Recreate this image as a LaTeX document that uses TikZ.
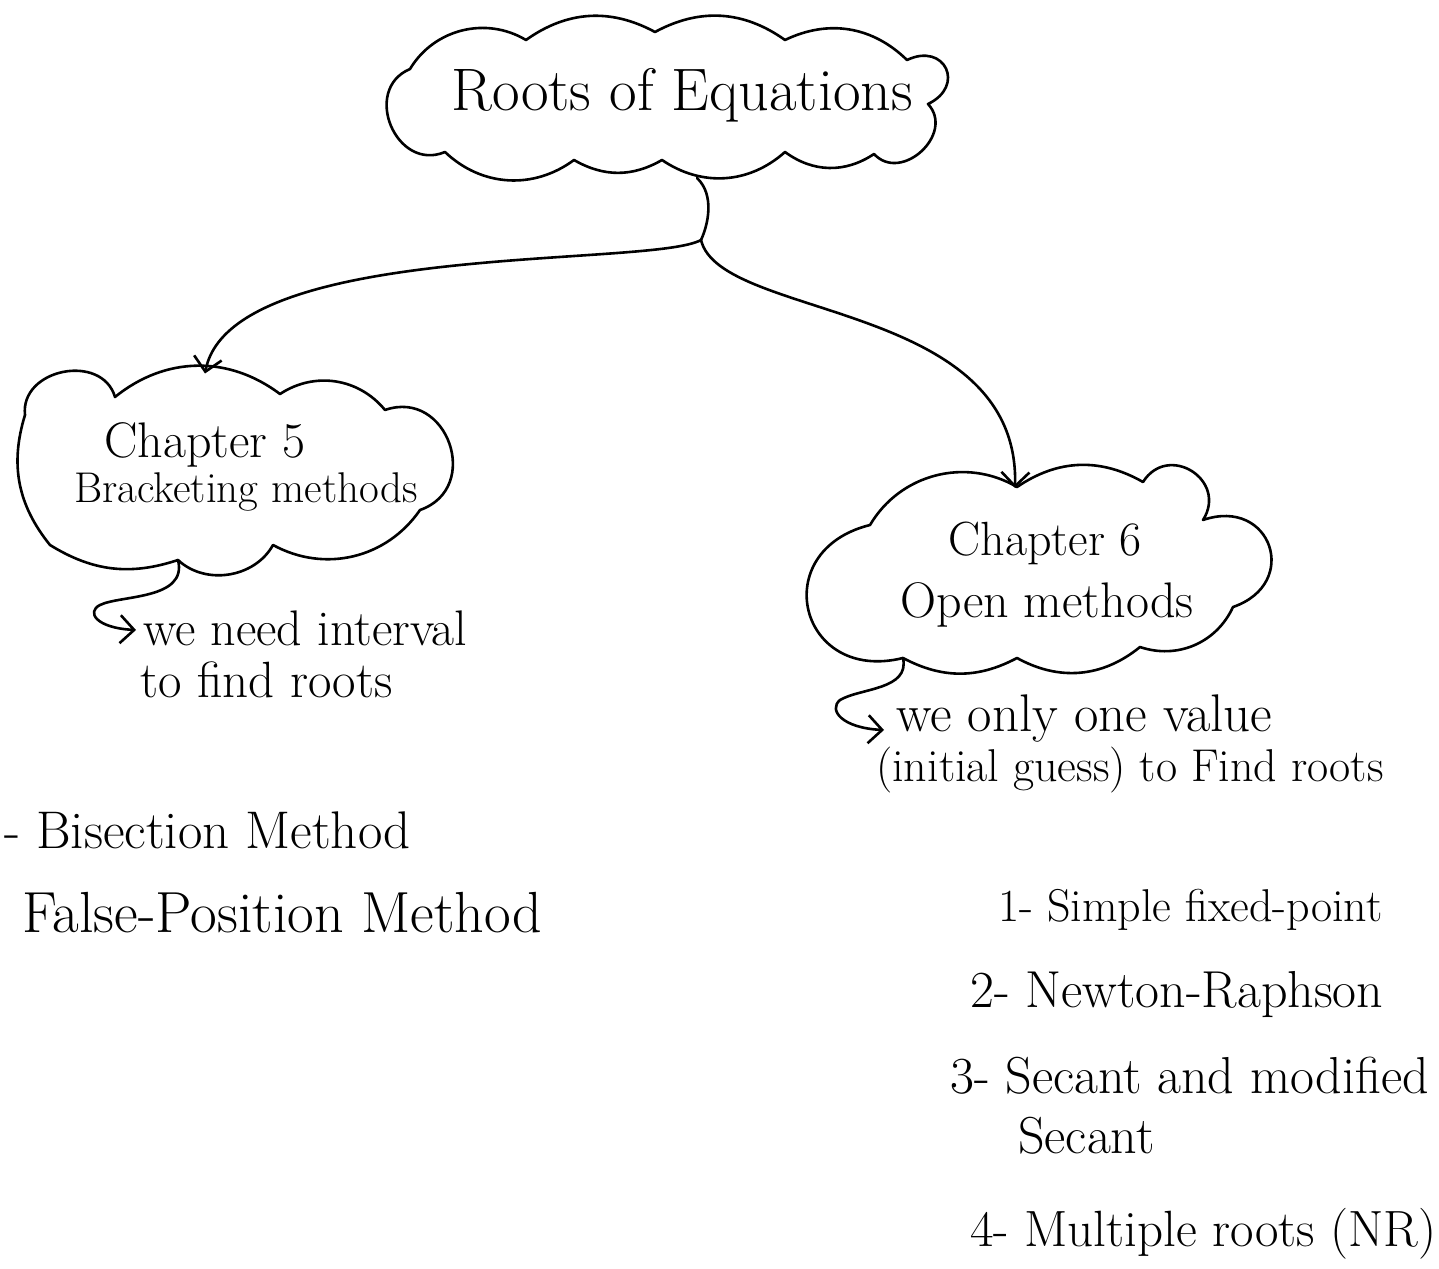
\documentclass[tikz,border=0pt]{standalone}
\usetikzlibrary{arrows.meta}
\newcommand{\fs}[1]{\fontsize{#1}{#1}\selectfont}
\begin{document}
\begin{tikzpicture}[x=1pt,y=-1pt,
  ink/.style={line width=2.6pt,line cap=round,line join=round},
  area/.style={inner sep=0pt,outer sep=0pt},
  hand/.style={inner sep=0pt},
  arr/.style={ink,-{Straight Barb[length=14pt,width=28pt,line width=2.6pt]}}]
\useasboundingbox (0,0) rectangle (1439,1268);
% cloud areas (anchors)
\node[area,minimum width=580pt,minimum height=166pt] (root) at (672,95) {};
\node[area,minimum width=443pt,minimum height=205pt] (ch5) at (233,476) {};
\node[area,minimum width=480pt,minimum height=200pt] (ch6) at (1037,572) {};
% root cloud outline
\coordinate (a1) at (410,69);  \coordinate (a2) at (526,40);  \coordinate (a3) at (655,32);
\coordinate (a4) at (785,40);  \coordinate (a5) at (907,60);  \coordinate (a6) at (928,104);
\coordinate (a7) at (874,154); \coordinate (a8) at (785,152); \coordinate (a9) at (662,160);
\coordinate (a10) at (574,160); \coordinate (a11) at (445,152);
\draw[ink] (a1) to[bend left=45] (a2) to[bend left=32] (a3) to[bend left=32] (a4)
  to[bend left=35] (a5) to[bend left=90,looseness=2.2] (a6) to[bend left=90,looseness=1.4] (a7)
  to[bend left=35] (a8) to[bend left=38] (a9) to[bend left=30] (a10) to[bend left=40] (a11)
  to[bend left=90,looseness=1.5] cycle;
% chapter 5 cloud outline
\coordinate (b1) at (25,415);  \coordinate (b2) at (115,397); \coordinate (b3) at (280,394);
\coordinate (b4) at (385,410); \coordinate (b5) at (420,510); \coordinate (b6) at (273,545);
\coordinate (b7) at (178,560); \coordinate (b8) at (50,545);
\draw[ink] (b1) to[bend left=85,looseness=1.3] (b2) to[bend left=38] (b3) to[bend left=42] (b4)
  to[bend left=90,looseness=1.6] (b5) to[bend left=42] (b6) to[bend left=52] (b7)
  to[bend left=25] (b8) to[bend left=28] cycle;
% chapter 6 cloud outline
\coordinate (k1) at (870,525);  \coordinate (k2) at (1017,487); \coordinate (k3) at (1143,482);
\coordinate (k4) at (1203,520); \coordinate (k5) at (1233,607); \coordinate (k6) at (1140,647);
\coordinate (k7) at (1017,658); \coordinate (k8) at (903,658);
\draw[ink] (k1) to[bend left=45] (k2) to[bend left=32] (k3) to[bend left=90,looseness=1.7] (k4)
  to[bend left=90,looseness=2.0] (k5) to[bend left=42] (k6) to[bend left=34] (k7)
  to[bend left=28] (k8) to[bend left=90,looseness=2.0] cycle;
% titles
\node[hand,font=\fs{60}] (rt) at (682,95) {Roots of Equations};
\node[hand,font=\fs{50}] (c5a) at (205,445) {Chapter 5};
\node[hand,font=\fs{43}] (c5b) at (246,492) {Bracketing methods};
\node[hand,font=\fs{48}] (c6a) at (1045,543) {Chapter 6};
\node[hand,font=\fs{50}] (c6b) at (1047,605) {Open methods};
% notes
\node[hand,font=\fs{50},anchor=west] (n5a) at (143,628) {we need interval};
\node[hand,font=\fs{51},anchor=west] (n5b) at (140,680) {to find roots};
\node[hand,font=\fs{53},anchor=west] (n6a) at (896,718) {we only one value};
\node[hand,font=\fs{46},anchor=west] (n6b) at (876,770) {(initial guess) to Find roots};
% lists
\node[hand,font=\fs{53},anchor=west] (l1) at (4,830) {- Bisection Method};
\node[hand,font=\fs{58},anchor=west] (l2) at (22,913) {False-Position Method};
\node[hand,font=\fs{46},anchor=west] (r1) at (998,910) {1- Simple fixed-point};
\node[hand,font=\fs{52},anchor=west] (r2) at (970,995) {2- Newton-Raphson};
\node[hand,font=\fs{52},anchor=west] (r3) at (950,1076) {3- Secant and modified};
\node[hand,font=\fs{52},anchor=west] (r3b) at (1018,1136) {Secant};
\node[hand,font=\fs{51},anchor=west] (r4) at (970,1234) {4- Multiple roots (NR)};
% connectors
\coordinate (fork) at (701,240);
\draw[ink] ([xshift=25pt]root.south) .. controls (715,195) and (708,225) .. (fork);
\draw[arr] (fork) .. controls (650,268) and (230,240) .. ([xshift=-28pt]ch5.north);
\draw[arr] (fork) .. controls (720,320) and (1020,300) .. ([xshift=-22pt,yshift=-16pt]ch6.north);
% hook arrows
\coordinate (h5) at (136,630);
\coordinate (h6) at (884,730);
\draw[arr] (b7) .. controls (188,600) and (120,595) .. (100,605)
  .. controls (86,612) and (96,628) .. (h5);
\draw[arr] (k8) .. controls (910,690) and (860,688) .. (840,700)
  .. controls (828,710) and (842,728) .. (h6);
\end{tikzpicture}
\end{document}
